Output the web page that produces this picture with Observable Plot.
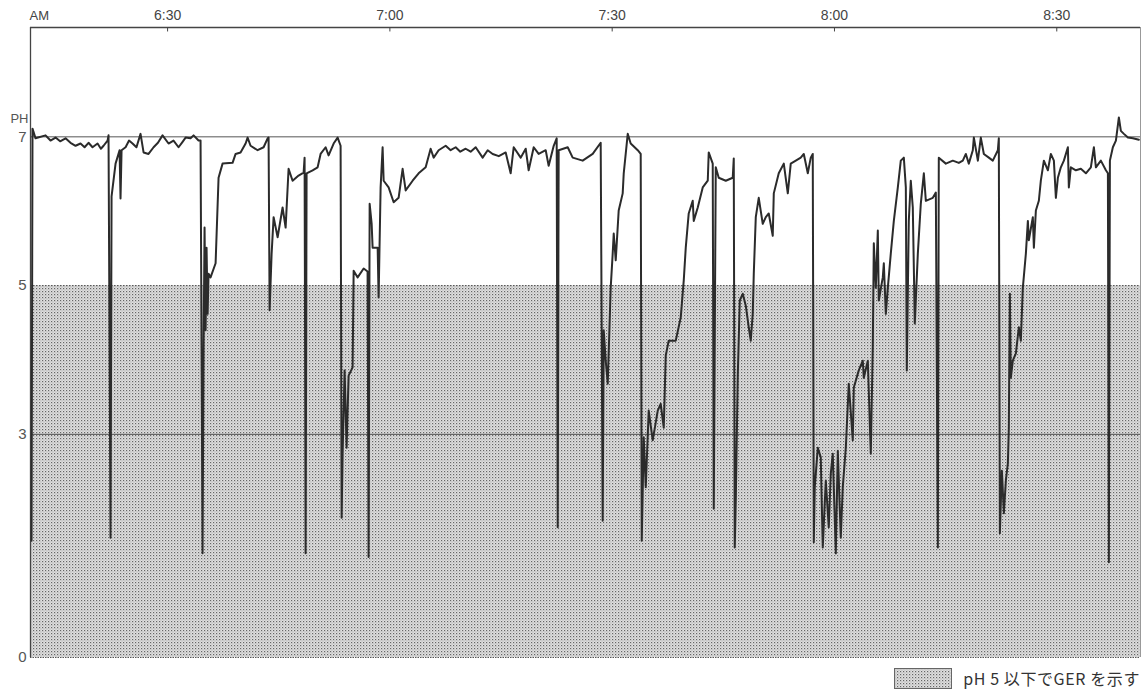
<!DOCTYPE html>
<html>
<head>
<meta charset="utf-8">
<script src="https://cdn.jsdelivr.net/npm/d3@7"></script>
<script src="https://cdn.jsdelivr.net/npm/@observablehq/plot@0.6"></script>
<style>
  html, body { margin: 0; padding: 0; background: #fff; }
  #chart { width: 1148px; }
  #legend { width: 1148px; height: 28px; display: flex; justify-content: flex-end; align-items: center;
            font-family: "Noto Sans CJK JP", "Liberation Sans", sans-serif; font-size: 16px; color: #333; }
  #legend svg { margin-right: 11px; }
  #legend span { margin-right: 8px; letter-spacing: 0.6px; }
</style>
</head>
<body>
<div id="chart"></div>
<div id="legend"></div>
<script>
// time in minutes after 6:00 AM, pH values
const xMin = 11.5, xMax = 161.3;
const yMax = 8.47;
const tickMinutes = [30, 60, 90, 120, 150];
const tickLabels = ["6:30", "7:00", "7:30", "8:00", "8:30"];
const phTicks = [0, 3, 5, 7];
const gerThreshold = 5;
const referenceLines = [3, 7];
const legendText = "pH 5 以下でGER を示す";

// pH trace: [minute, pH]
const trace = [
  [11.64,1.57],[11.77,7.11],[12.18,6.98],[13.53,7.02],[14.20,6.95],[14.88,6.99],[15.50,6.94],[16.23,6.98],[16.90,6.92],[17.58,6.88],[18.25,6.91],
  [18.80,6.86],[19.33,6.92],[19.87,6.86],[20.55,6.91],[21.00,6.84],[21.36,6.88],[21.90,6.95],[22.03,7.02],
  [22.30,1.61],[22.44,6.20],[22.98,6.64],[23.52,6.82],[23.65,6.17],[23.79,6.82],[24.33,6.86],[24.80,6.95],[25.27,6.91],
  [25.80,6.86],[26.35,7.04],[26.76,6.79],[27.43,6.77],[28.11,6.86],[28.70,6.92],[29.32,7.02],[30.13,6.91],[30.80,6.95],[31.48,6.86],[32.00,6.93],[32.43,6.99],
  [33.10,6.98],[33.51,7.02],[34.18,6.95],[34.45,6.95],
  [34.72,1.40],[34.86,4.17],[34.99,5.78],[35.13,4.40],[35.26,5.51],[35.40,4.62],[35.53,5.16],[35.80,5.11],
  [36.48,5.30],[36.88,6.45],[37.42,6.64],[38.77,6.65],[39.18,6.77],[39.85,6.79],[40.53,6.91],[40.80,6.99],
  [41.20,6.88],[42.15,6.82],[42.96,6.86],[43.50,6.98],[43.63,6.99],
  [43.77,4.67],[44.04,5.43],[44.31,5.92],[44.85,5.65],[45.52,6.05],[45.93,5.78],[46.33,6.57],[46.87,6.41],
  [47.68,6.48],[48.36,6.52],[48.49,6.72],
  [48.63,1.40],[48.76,6.51],[49.57,6.55],[50.25,6.59],[50.65,6.77],[51.33,6.86],[51.73,6.75],[52.41,6.91],
  [52.95,6.99],[53.35,6.88],
  [53.49,1.88],[53.62,2.74],[53.89,3.86],[54.16,2.82],[54.43,3.79],[54.97,3.90],[55.11,5.20],[55.65,5.11],
  [56.46,5.23],[56.99,5.19],
  [57.13,1.35],[57.27,6.10],[57.54,5.83],[57.67,5.51],[58.35,5.51],[58.48,4.84],[58.75,6.32],[59.02,6.86],
  [59.16,6.41],[59.83,6.32],[60.51,6.12],[61.18,6.18],[61.72,6.57],[62.13,6.28],[63.07,6.41],[63.88,6.51],
  [64.83,6.59],[65.50,6.84],[65.91,6.72],[66.58,6.82],[67.53,6.88],[68.20,6.82],[68.88,6.86],[69.50,6.80],[70.23,6.84],[70.90,6.80],[71.58,6.86],
  [72.52,6.72],[73.20,6.82],[73.87,6.77],[74.70,6.74],[75.63,6.79],[76.30,6.51],[76.71,6.86],[77.65,6.72],[78.33,6.84],[78.73,6.55],
  [79.41,6.86],[80.08,6.77],[81.03,6.82],[81.43,6.61],[82.11,6.88],[82.51,6.98],
  [82.65,1.75],[82.78,6.82],[84.00,6.86],[84.67,6.72],[86.02,6.68],[87.37,6.77],[88.45,6.92],
  [88.72,1.84],[88.86,4.40],[89.13,3.99],[89.40,3.68],[89.80,4.97],[90.07,5.43],[90.21,5.70],[90.48,5.34],
  [90.88,6.01],[91.42,6.24],[91.56,6.51],[92.10,7.04],[92.50,6.91],[93.45,6.82],[93.85,6.77],
  [93.99,1.57],[94.26,2.96],[94.53,2.29],[94.93,3.32],[95.47,2.92],[96.15,3.32],[96.55,3.41],[96.96,3.09],
  [97.23,4.06],[97.63,4.26],[98.58,4.26],[99.25,4.57],[99.66,5.07],[99.93,5.51],[100.33,5.97],[100.87,6.14],
  [101.01,5.87],[101.55,6.05],[102.22,6.32],[102.90,6.41],[103.03,6.79],[103.57,6.64],
  [103.71,2.00],[103.98,6.59],[104.38,6.45],[105.33,6.41],[106.27,6.45],[106.41,6.71],
  [106.54,1.48],[106.68,2.11],[106.95,3.79],[107.22,4.80],[107.62,4.89],[108.03,4.73],[108.43,4.44],
  [108.70,4.26],[108.97,4.62],[109.11,5.16],[109.38,5.92],[109.78,6.18],[110.32,5.83],[110.73,5.92],
  [111.13,5.97],[111.67,5.67],[111.81,6.24],[112.48,6.51],[113.16,6.64],[113.70,6.24],[114.10,6.64],
  [114.78,6.68],[115.45,6.72],[115.86,6.77],[116.40,6.51],[116.80,6.72],[117.07,6.77],
  [117.21,1.55],[117.34,2.29],[117.75,2.82],[118.15,2.69],[118.42,1.48],[118.83,2.38],[119.23,1.75],
  [119.50,2.47],[119.77,2.74],[120.18,1.40],[120.45,2.78],[120.85,1.61],[121.12,2.29],[121.53,2.82],
  [121.93,3.68],[122.47,2.92],[122.61,3.63],[123.28,3.86],[123.82,3.99],[123.96,3.76],[124.50,3.99],
  [124.90,2.74],[125.17,4.17],[125.31,5.57],[125.58,4.97],[125.85,5.74],[125.98,4.80],[126.52,5.11],
  [126.66,5.30],[126.93,4.62],[127.20,4.97],[127.60,5.43],[128.01,5.87],[128.55,6.32],[128.95,6.68],
  [129.36,6.72],[129.63,6.32],[129.76,3.86],[130.03,5.87],[130.30,6.41],[130.57,6.05],[130.84,4.49],
  [131.25,5.43],[131.65,6.10],[132.06,6.51],[132.33,6.14],[133.27,6.18],[133.68,6.25],
  [133.95,1.48],[134.08,6.72],[135.03,6.64],[135.97,6.68],[136.78,6.65],[137.32,6.68],[137.73,6.77],
  [138.13,6.64],[138.67,6.82],[138.81,6.99],[139.35,6.68],[139.75,6.99],[140.16,6.77],[140.83,6.72],
  [141.37,6.68],[142.05,6.82],[142.18,6.98],
  [142.32,1.67],[142.59,2.51],[142.86,1.94],[143.13,2.38],[143.40,2.61],[143.53,3.09],[143.67,4.89],
  [143.80,3.76],[144.07,3.99],[144.48,4.09],[144.88,4.44],[145.15,4.26],[145.42,4.97],[145.83,5.43],
  [146.10,5.87],[146.23,5.61],[146.77,5.92],[146.91,5.51],[147.18,6.01],[147.58,6.14],[147.85,6.41],
  [148.26,6.68],[148.80,6.55],[149.20,6.77],[149.61,6.68],[149.88,6.18],[150.15,6.45],[150.55,6.59],
  [150.96,6.68],[151.50,6.86],[151.63,6.32],[151.90,6.59],[152.58,6.55],[153.25,6.57],[153.93,6.51],
  [154.60,6.59],[155.01,6.86],[155.28,6.59],[155.95,6.68],[156.63,6.55],[156.90,6.51],
  [157.03,1.28],[157.17,6.68],[157.57,6.86],[157.98,6.95],[158.38,7.26],[158.65,7.08],[159.06,7.04],
  [159.60,6.99],[160.27,6.98],[161.08,6.96]
];

const chart = Plot.plot({
  width: 1148,
  height: 664,
  marginLeft: 30,
  marginRight: 8,
  marginTop: 27,
  marginBottom: 7,
  style: { fontFamily: "'Liberation Sans', Arial, sans-serif", fontSize: "14px", color: "#444", background: "#fff" },
  x: { domain: [xMin, xMax] },
  y: { domain: [0, yMax] },
  marks: [
    Plot.rect([gerThreshold], { x1: () => xMin, x2: () => xMax, y1: () => 0, y2: d => d, fill: "url(#dots)" }),
    Plot.ruleY(referenceLines, { stroke: "#555", strokeWidth: 1 }),
    Plot.ruleY([gerThreshold], { stroke: "#555", strokeWidth: 1, strokeDasharray: "1.5,1.5" }),
    Plot.ruleY([0], { stroke: "#555", strokeWidth: 1.2, strokeDasharray: "1.5,1" }),
    Plot.ruleY([yMax], { stroke: "#444", strokeWidth: 1.3 }),
    Plot.ruleX([xMin], { y1: 0, y2: yMax, stroke: "#444", strokeWidth: 1.3 }),
    Plot.ruleX([xMax], { y1: 0, y2: yMax, stroke: "#999", strokeWidth: 1 }),
    Plot.ruleX(tickMinutes, { y1: yMax, y2: yMax - 0.06, stroke: "#444" }),
    Plot.axisX(tickMinutes, { anchor: "top", tickSize: 0, tickPadding: 8,
      tickFormat: d => tickLabels[tickMinutes.indexOf(d)], label: null, fill: "#444" }),
    Plot.axisY(phTicks, { anchor: "left", tickSize: 0, tickPadding: 4, tickFormat: d => String(d), label: null, fill: "#555", fontSize: 15 }),
    Plot.text(["AM"], { x: () => xMin, y: () => yMax, dy: -12, dx: -1, textAnchor: "start", fill: "#444", fontSize: 13 }),
    Plot.text(["PH"], { x: () => xMin, y: () => 7, dy: -18, dx: -2, textAnchor: "end", fill: "#555", fontSize: 13 }),
    Plot.line(trace, { x: d => d[0], y: d => d[1], stroke: "#2b2b2b", strokeWidth: 2, strokeLinejoin: "round" })
  ]
});

const patternDef = `<pattern id="dots" width="3" height="3" patternUnits="userSpaceOnUse">
  <rect width="3" height="3" fill="#e0e0e0"></rect>
  <rect x="0" y="0" width="1.2" height="1.2" fill="#666"></rect>
  <rect x="1.5" y="1.5" width="1" height="1" fill="#999"></rect>
</pattern>`;
d3.select(chart).insert("defs", ":first-child").html(patternDef);
document.getElementById("chart").appendChild(chart);

const legend = d3.select("#legend");
const sw = legend.append("svg").attr("width", 58).attr("height", 21);
sw.append("defs").html(patternDef.replace('id="dots"', 'id="dots2"'));
sw.append("rect").attr("x", 0.5).attr("y", 0.5).attr("width", 57).attr("height", 20)
  .attr("fill", "url(#dots2)").attr("stroke", "#666").attr("stroke-width", 1);
legend.append("span").text(legendText);
</script>
</body>
</html>
